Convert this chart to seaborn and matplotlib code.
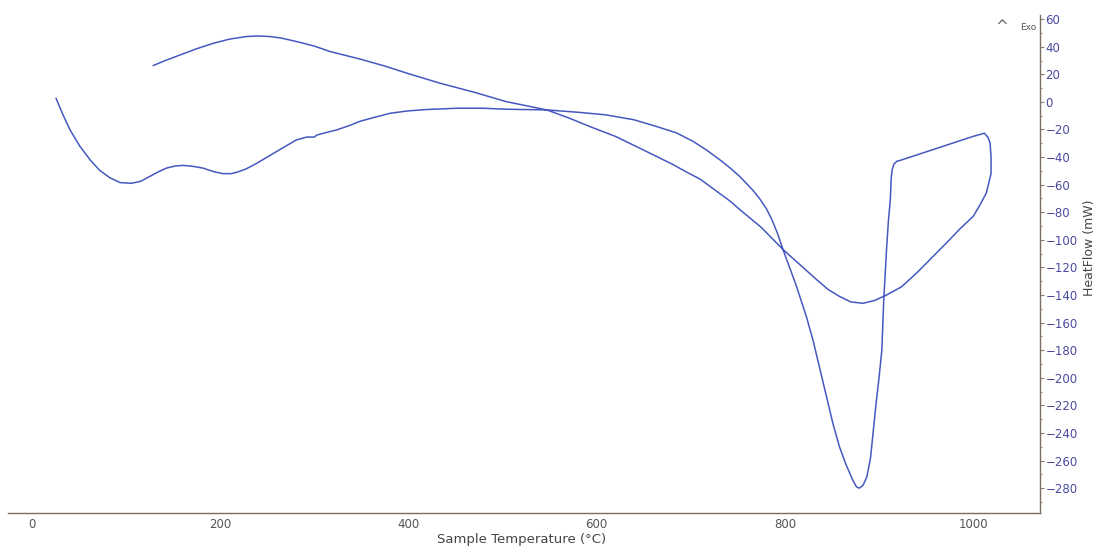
import numpy as np
import pandas as pd
import matplotlib
matplotlib.use("Agg")
import matplotlib.pyplot as plt
from matplotlib.ticker import MultipleLocator
import seaborn as sns

# Sample temperature (°C) along the recorded path (heating then cooling)
temperature = [
    25.8, 33, 40.7, 51, 62, 72, 83, 94, 106, 116, 125.6, 135, 143, 152, 161,
    172, 182, 193, 203, 212, 218, 228, 239, 250, 260, 270, 281, 292, 300, 303,
    314, 324, 338, 349, 365, 381, 400, 420, 451, 480, 504, 547, 580, 610, 640,
    664, 685, 703, 717, 731, 742, 752, 766, 773, 780, 786, 792, 798, 805, 812,
    823, 830, 837, 844, 851, 858, 865, 872, 876, 879, 883, 887, 891, 894, 897,
    900, 903, 905, 908, 910, 912, 913, 914, 916, 919, 922,
    960, 1000, 1012, 1016, 1018, 1019, 1019, 1014, 1007, 1000, 986, 972, 956,
    940, 924, 908, 895, 883, 870, 858, 846, 834, 816, 798, 775, 752, 742, 731,
    720, 710, 696, 680, 646, 620, 593, 570, 547, 504, 470, 434, 400, 375, 349,
    317, 300, 281, 265, 253, 240, 228, 210, 193, 175, 157.5, 140, 129,
]
# Heat flow (mW)
heat_flow = [
    2.7, -9, -20.3, -32, -42, -49.5, -55, -58.5, -59, -57.5, -54, -50.5, -48,
    -46.5, -46, -46.8, -48, -50.5, -52, -52, -51, -48.5, -44.5, -40, -36, -32,
    -27.6, -25.5, -25.5, -24, -22, -20.3, -17, -14, -11, -8.2, -6.5, -5.5,
    -4.6, -4.6, -5.3, -5.8, -7.5, -9.4, -13, -17.9, -22.5, -28.8, -35, -42,
    -48, -54, -64, -70, -77, -85, -95, -107, -120, -133, -156, -173, -193,
    -213, -233, -250, -263, -274, -279, -280, -278, -272, -258, -238, -218,
    -200, -180, -144, -107, -86, -71, -55, -49, -45, -43, -42.5,
    -34, -25, -22.7, -26, -30, -40, -52, -66, -75, -83, -92, -102, -113,
    -124, -134, -140, -144, -146, -145, -141, -136, -129, -118, -107, -91,
    -78, -72, -66.5, -61, -56, -51, -45, -33.6, -25, -17.9, -11.5, -5.8, 0.2,
    7, 13.5, 20.5, 26, 31, 36.5, 40.5, 43.8, 46.3, 47.4, 47.8, 47.4, 45.5,
    42.5, 38.5, 34, 29.5, 26.3,
]
y_ticks = list(range(-280, 61, 20))
x_ticks = [0, 200, 400, 600, 800, 1000]

df = pd.DataFrame({"T": temperature, "HF": heat_flow, "order": np.arange(len(temperature))})

sns.set_style("white")
plt.rcParams["font.family"] = ["DejaVu Sans"]

fig = plt.figure(figsize=(11.03, 5.55), dpi=100)
ax = fig.add_axes([8 / 1103, 1 - 512.7 / 555, (1040 - 8) / 1103, (512.7 - 15) / 555])

sns.lineplot(data=df, x="T", y="HF", sort=False, estimator=None, ax=ax,
             color="#4658c0", linewidth=1.1)

ax.set_xlim(-25.2, 1071)
ax.set_ylim(-297.8, 63)

ax.yaxis.tick_right()
ax.yaxis.set_label_position("right")
ax.spines["left"].set_visible(False)
ax.spines["top"].set_visible(False)
for s in ("bottom", "right"):
    ax.spines[s].set_color("#7a6e62")
    ax.spines[s].set_linewidth(1.0)

ax.set_yticks(y_ticks)
ax.set_xticks(x_ticks)
ax.yaxis.set_minor_locator(MultipleLocator(10))
ax.xaxis.set_minor_locator(MultipleLocator(50))
ax.tick_params(axis="y", which="major", direction="out", length=3, width=0.8,
               colors="#8a7e70", labelcolor="#4a4aa0", labelsize=8.5, pad=1)
ax.tick_params(axis="y", which="minor", direction="out", length=1.5, width=0.6,
               colors="#8a7e70")
ax.tick_params(axis="x", which="major", direction="out", length=3, width=0.8,
               colors="#8a7e70", labelcolor="#555555", labelsize=8.5, pad=1)
ax.tick_params(axis="x", which="minor", direction="out", length=1.5, width=0.6,
               colors="#8a7e70")

ax.set_xlabel("Sample Temperature (°C)", fontsize=9.5, color="#444444")
ax.xaxis.set_label_coords((522 - 8) / 1032, -0.040)
ax.set_ylabel("HeatFlow (mW)", fontsize=9, color="#444444")
ax.yaxis.set_label_coords(1.0 + (1083 - 1040) / 1032, (512.7 - 248) / 497.7)

fig.text(1002 / 1103, 1 - 27 / 555, "^", fontsize=11, color="#666666",
         ha="center", va="center")
fig.text(1028 / 1103, 1 - 28 / 555, "Exo", fontsize=6.5, color="#555555",
         ha="center", va="center")

ax.grid(False)
fig.savefig("out.png", dpi=100)
